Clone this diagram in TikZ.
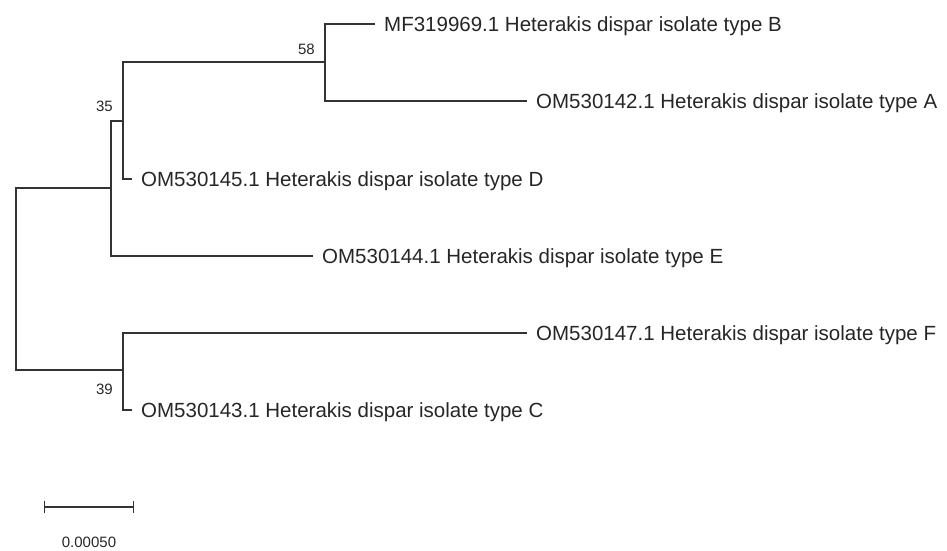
\documentclass[tikz,border=0pt]{standalone}
\usepackage{fontspec}
\setmainfont{Liberation Sans}
\usetikzlibrary{arrows.meta}

\begin{document}
\begin{tikzpicture}[x=1pt,y=-1pt,
    branch/.style={line width=1.2pt,draw=black!80},
    taxon/.style={anchor=west,inner xsep=9pt,inner ysep=0pt,font=\fontsize{20.5}{24}\selectfont,
      text height=14.7pt,text depth=0pt,text=black!85},
    boot/.style={font=\fontsize{15}{18}\selectfont,inner sep=0pt,text=black!85}]
    \useasboundingbox (0,0) rectangle (947,551);
    % internal nodes of the tree
    \coordinate (root) at (16,279);
    \coordinate (n1) at (111,188);
    \coordinate (n2) at (123,121);
    \coordinate (n3) at (325,62);
    \coordinate (n4) at (123,370);
    % taxa
    \node[taxon] (tB) at (375,24) {MF319969.1 Heterakis dispar isolate type B};
    \node[taxon] (tA) at (527,101) {OM530142.1 Heterakis dispar isolate type A};
    \node[taxon] (tD) at (132,179) {OM530145.1 Heterakis dispar isolate type D};
    \node[taxon] (tE) at (313,256) {OM530144.1 Heterakis dispar isolate type E};
    \node[taxon] (tF) at (527,333) {OM530147.1 Heterakis dispar isolate type F};
    \node[taxon] (tC) at (132,410) {OM530143.1 Heterakis dispar isolate type C};
    % branches
    \draw[branch] (tB.west) -| (n3) |- (tA.west);
    \draw[branch] (n3) -| (n2) |- (tD.west);
    \draw[branch] (n2) -| (n1) |- (tE.west);
    \draw[branch] (n1) -| (root) |- (n4);
    \draw[branch] (tF.west) -| (n4) |- (tC.west);
    % bootstrap values
    \node[boot,anchor=east] (b58) at ([shift={(-10,-13)}]n3) {58};
    \node[boot,anchor=east] (b35) at ([shift={(-10,-15)}]n2) {35};
    \node[boot,anchor=east] (b39) at ([shift={(-10,19)}]n4) {39};
    % scale bar
    \coordinate (s0) at (44,507);
    \coordinate (s1) at (134,507);
    \draw[branch,{Bar[width=12pt]}-{Bar[width=12pt]}] (s0) -- (s1);
    \node[boot] (scale) at (89,542) {0.00050};
  \end{tikzpicture}
\end{document}
